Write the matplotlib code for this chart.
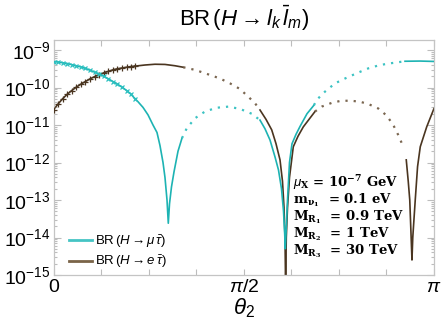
import numpy as np
import matplotlib
matplotlib.use("Agg")
import matplotlib.pyplot as plt
from matplotlib.lines import Line2D
from matplotlib.ticker import LogLocator, FixedLocator, NullFormatter

plt.rcParams['font.family'] = ['Liberation Sans', 'DejaVu Sans']
plt.rcParams['mathtext.fontset'] = 'custom'
plt.rcParams['mathtext.rm'] = 'Liberation Sans'
plt.rcParams['mathtext.it'] = 'Liberation Sans:italic'
plt.rcParams['mathtext.bf'] = 'DejaVu Serif:bold'

# ---------------- data (theta in units of pi, log10 of BR) ----------------
# H -> mu tau-bar
mu_mark_t = [0.0, 0.012, 0.024, 0.036, 0.048, 0.060, 0.072, 0.084, 0.096, 0.108,
             0.120, 0.132, 0.144, 0.156, 0.168, 0.180, 0.192, 0.204, 0.214]
mu_mark_v = [-9.31, -9.32, -9.34, -9.36, -9.39, -9.42, -9.45, -9.49, -9.54, -9.59,
             -9.64, -9.70, -9.77, -9.84, -9.91, -9.99, -10.08, -10.18, -10.30]
mu_s1_t = [0.2142, 0.2221, 0.2352, 0.2484, 0.2615, 0.2720, 0.2799, 0.2878, 0.2930,
           0.2983, 0.3017, 0.3049, 0.3101, 0.3167, 0.3272, 0.3377]
mu_s1_v = [-10.30, -10.38, -10.53, -10.73, -11.0, -11.2, -11.55, -12.0, -12.4,
           -13.0, -13.62, -13.1, -12.65, -12.25, -11.7, -11.35]
mu_d1_t = [0.3377, 0.3501, 0.3719, 0.3982, 0.4289, 0.4594, 0.4901, 0.5209, 0.5427]
mu_d1_v = [-11.35, -11.09, -10.82, -10.64, -10.54, -10.51, -10.57, -10.70, -10.87]
mu_s2_t = [0.5427, 0.5558, 0.5690, 0.5821, 0.5913, 0.5992, 0.6045, 0.6076, 0.6092,
           0.6110, 0.6150, 0.6202, 0.6268, 0.6373, 0.6478, 0.6662, 0.6846]
mu_s2_v = [-10.87, -11.1, -11.4, -11.85, -12.2, -12.7, -13.3, -13.9, -14.3,
           -13.9, -13.0, -12.0, -11.5, -11.25, -11.04, -10.7, -10.47]
mu_d2_t = [0.6846, 0.6917, 0.7135, 0.7398, 0.7661, 0.7968, 0.8273, 0.8581, 0.8888, 0.9238]
mu_d2_v = [-10.47, -10.33, -10.11, -9.89, -9.76, -9.62, -9.49, -9.40, -9.35, -9.30]
mu_s3_t = [0.9238, 0.9632, 1.0]
mu_s3_v = [-9.30, -9.295, -9.305]

# H -> e tau-bar
e_mark_t = mu_mark_t
e_mark_v = [-10.59, -10.44, -10.30, -10.18, -10.08, -9.99, -9.91, -9.84, -9.77, -9.71,
            -9.66, -9.61, -9.57, -9.53, -9.50, -9.48, -9.46, -9.44, -9.43]
e_s1_t = [0.2142, 0.2405, 0.2668, 0.2930, 0.3193, 0.3411]
e_s1_v = [-9.43, -9.40, -9.38, -9.385, -9.42, -9.46]
e_d1_t = [0.3411, 0.3719, 0.4068, 0.4376, 0.4639, 0.4901, 0.5164, 0.5296, 0.5427]
e_d1_v = [-9.46, -9.53, -9.65, -9.76, -9.89, -10.04, -10.29, -10.42, -10.6]
e_s2_t = [0.5427, 0.5585, 0.5735, 0.5848, 0.5953, 0.6018, 0.6058, 0.6084, 0.6100,
          0.6118, 0.6150, 0.6202, 0.6302, 0.6426, 0.6565, 0.6715, 0.6873]
e_s2_v = [-10.6, -10.85, -11.13, -11.5, -11.93, -12.5, -13.2, -14.0, -15.3,
          -14.0, -13.2, -12.4, -11.58, -11.3, -11.05, -10.85, -10.64]
e_d2_t = [0.6873, 0.7049, 0.7312, 0.7530, 0.7793, 0.8055, 0.8273, 0.8536, 0.8757,
          0.8930, 0.9062, 0.9193]
e_d2_v = [-10.64, -10.51, -10.41, -10.36, -10.35, -10.38, -10.44, -10.56, -10.75,
          -11.0, -11.27, -11.58]
e_s3_t = [0.9271, 0.9323, 0.9363, 0.9395, 0.9421, 0.9442, 0.9468, 0.9507, 0.9568,
          0.9639, 0.9808, 1.0]
e_s3_v = [-11.93, -12.5, -13.0, -13.88, -14.6, -14.0, -13.6, -13.0, -12.11,
          -11.58, -11.05, -10.56]

x_tick_vals = [0.0, 0.5, 1.0]
x_tick_labels = ['0', r'$\pi/2$', r'$\pi$']
y_tick_exps = [-15, -14, -13, -12, -11, -10, -9]
legend_labels = [r'$\mathrm{BR}\,(H\rightarrow\mu\,\bar{\tau})$',
                 r'$\mathrm{BR}\,(H\rightarrow e\,\bar{\tau})$']
param_lines = [r'$\mu_{\mathbf{X}}$ = 10$^{\mathbf{-7}}$ GeV',
               r'm$_{\mathbf{\nu_1}}$  = 0.1 eV',
               r'M$_{\mathbf{R_1}}$  = 0.9 TeV',
               r'M$_{\mathbf{R_2}}$  = 1 TeV',
               r'M$_{\mathbf{R_3}}$  = 30 TeV']

# ---------------- plotting ----------------
teal = '#1db3b3'
brown = '#4a3520'
W, H = 441, 321
fig = plt.figure(figsize=(W / 100, H / 100), dpi=100)
ax = fig.add_axes([53.5 / W, 46 / H, 380.5 / W, 235.5 / H])


def tv(t, v):
    return np.pi * np.asarray(t), 10.0 ** np.asarray(v)


dot_style = dict(lw=1.6, linestyle=(0, (1, 2.7)), dash_capstyle='butt')

# electron (below)
for t, v in [(e_mark_t, e_mark_v), (e_s1_t, e_s1_v), (e_s2_t, e_s2_v), (e_s3_t, e_s3_v)]:
    ax.plot(*tv(t, v), color=brown, lw=1.2, zorder=2)
for t, v in [(e_d1_t, e_d1_v), (e_d2_t, e_d2_v)]:
    ax.plot(*tv(t, v), color='#7a6650', zorder=2, **dot_style)
ax.plot(*tv(e_mark_t, e_mark_v), linestyle='none', marker='+', ms=4, mew=0.9,
        color=brown, zorder=3)

# muon (on top)
for t, v in [(mu_mark_t, mu_mark_v), (mu_s1_t, mu_s1_v), (mu_s2_t, mu_s2_v), (mu_s3_t, mu_s3_v)]:
    ax.plot(*tv(t, v), color=teal, lw=1.2, zorder=4)
for t, v in [(mu_d1_t, mu_d1_v), (mu_d2_t, mu_d2_v)]:
    ax.plot(*tv(t, v), color='#3cc3c3', zorder=4, **dot_style)
ax.plot(*tv(mu_mark_t, mu_mark_v), linestyle='none', marker='x', ms=3.5, mew=0.9,
        color='#2cc0c0', zorder=5)

ax.set_yscale('log')
ax.set_xlim(0, np.pi)
ax.set_ylim(1e-15, 10 ** (-8.72))

ax.xaxis.set_major_locator(FixedLocator(np.pi * np.array(x_tick_vals)))
ax.set_xticklabels(x_tick_labels)
ax.xaxis.set_minor_locator(FixedLocator(np.pi * np.arange(1, 8) / 8))
ax.yaxis.set_major_locator(FixedLocator(10.0 ** np.array(y_tick_exps)))
minor_y = [m * 10.0 ** e for e in y_tick_exps for m in range(2, 10) if m * 10.0 ** e < 10 ** (-8.72)]
ax.yaxis.set_minor_locator(FixedLocator(minor_y))
ax.yaxis.set_minor_formatter(NullFormatter())

for s in ax.spines.values():
    s.set_color('#c4c4c4')
    s.set_linewidth(0.9)
ax.tick_params(which='both', direction='in', top=True, right=True, color='#bdbdbd',
               labelsize=14, width=0.8)
ax.tick_params(axis='x', which='both', length=4, pad=3)
ax.tick_params(axis='y', which='major', length=5, pad=2)
ax.tick_params(axis='y', which='minor', length=2.5)

ax.set_xlabel(r'$\theta_2$', fontsize=16, labelpad=0)
ax.set_title(r'$\mathrm{BR}\,(H\rightarrow l_k\,\bar{l}_m)$', fontsize=16, pad=10)

handles = [Line2D([], [], color='#45c4c4', lw=2.0), Line2D([], [], color='#7a6448', lw=2.0)]
ax.legend(handles, legend_labels, loc='lower left', bbox_to_anchor=(0.04, 0.02),
          frameon=False, fontsize=9.5, handlelength=1.8, handletextpad=0.2,
          labelspacing=0.3, borderpad=0.0, borderaxespad=0.0)

for i, s in enumerate(param_lines):
    ax.text(0.629, 0.391 - i * 0.0722, s, transform=ax.transAxes, va='center', ha='left',
            fontsize=9.5, fontfamily='DejaVu Serif', fontweight='bold', zorder=6)

fig.savefig('out.png', dpi=100)
